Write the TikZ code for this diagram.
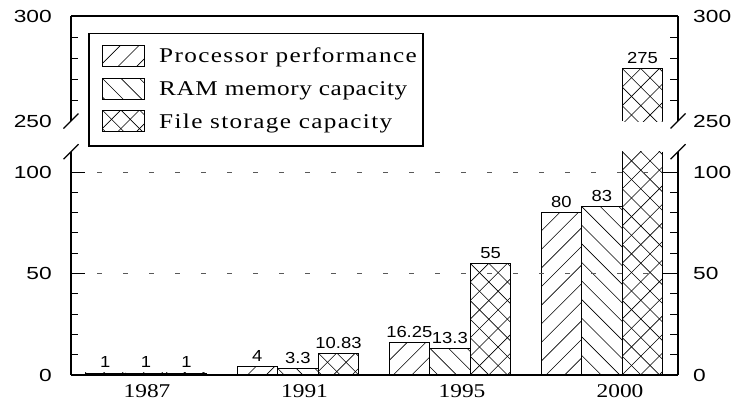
\documentclass[tikz,border=0pt]{standalone}
\usepackage{fontspec}
\setmainfont{Liberation Serif}
\newfontfamily\axisfont[FakeStretch=1.3]{Liberation Sans}
\newfontfamily\valfont[FakeStretch=1.15]{Liberation Sans}
\newfontfamily\yearfont[FakeStretch=1.2]{Liberation Serif}
\newfontfamily\legendfont[FakeStretch=1.2,LetterSpace=6.5]{Liberation Serif}
\newfontfamily\legendtight[FakeStretch=1.2,LetterSpace=3]{Liberation Serif}

% spacing of the hatch lines, measured along the vertical
\def\hstep{18.6}

% Hatch a rectangle (x1,y1)-(x2,y2) (y grows downward); the lines pass
% through (x1 + k*step, ay).  Kind: 1 = '/', 2 = '\', 3 = cross hatch.
\newcommand\hatchbox[6]{%
  \begin{scope}
    \clip (#1,#2) rectangle (#3,#4);
    \pgfmathtruncatemacro\hkmin{((#5)-(#4))/\hstep-2}
    \pgfmathtruncatemacro\hkmax{((#3)-(#1)+(#4)-(#5))/\hstep+2}
    \foreach \k in {\hkmin,...,\hkmax}{
      \pgfmathsetmacro\hpx{(#1)+\k*\hstep}
      \ifnum#6=2\else
        \draw[hatchline] (\hpx-700,#5+700) -- (\hpx+700,#5-700);
      \fi
      \ifnum#6=1\else
        \draw[hatchline] (\hpx-700,#5-700) -- (\hpx+700,#5+700);
      \fi
    }
  \end{scope}}

% One bar of the lower panel: name, left x, value, hatch kind, label
\newcommand\drawbar[5]{%
  \pgfmathsetmacro\btop{375-2.03*#3}
  \hatchbox{#2}{\btop}{#2+40.6}{375}{\btop}{#4}
  \draw[barline] (#2,375) rectangle (#2+40.6,\btop);
  \node[vallabel] (#1) at (#2+20.3,\btop-5) {#5};}

\begin{document}
\begin{tikzpicture}[x=1pt,y=-1pt,
  axisline/.style={line width=1.2pt,black},
  barline/.style={line width=0.8pt,black},
  hatchline/.style={line width=0.6pt,black},
  gridline/.style={black!65,line width=0.9pt,dash pattern=on 5pt off 21pt},
  tickline/.style={line width=1pt,black},
  axlabel/.style={font=\axisfont\fontsize{17.5}{20}\selectfont,inner sep=0},
  vallabel/.style={font=\valfont\fontsize{16}{18}\selectfont,inner sep=0,anchor=base},
  yearlabel/.style={font=\yearfont\fontsize{19.5}{22}\selectfont,inner sep=0,anchor=base},
  legtext/.style={font=\legendfont\fontsize{21}{24}\selectfont,inner sep=0,anchor=base west}]

\useasboundingbox (0,0) rectangle (732,405);

% ---- bars: processor, RAM, file storage ----
\drawbar{v87a}{85}{1}{1}{1}
\drawbar{v87b}{125.6}{1}{2}{1}
\drawbar{v87c}{166.2}{1}{3}{1}

\drawbar{v91a}{237}{4}{1}{4}
\drawbar{v91b}{277.6}{3.3}{2}{3.3}
\drawbar{v91c}{318.2}{10.83}{3}{10.83}

\drawbar{v95a}{389}{16.25}{1}{16.25}
\drawbar{v95b}{429.6}{13.3}{2}{13.3}
\drawbar{v95c}{470.2}{55}{3}{55}

\drawbar{v00a}{541}{80}{1}{80}
\drawbar{v00b}{581.6}{83}{2}{83}

% the 2000 file storage bar runs through the axis break
\hatchbox{622.2}{151.7}{662.8}{375}{-183.25}{3}
\draw[barline,line width=1.1pt] (622.2,151.7) -- (622.2,375);
\draw[barline,line width=1.1pt] (662.8,151.7) -- (662.8,375);
\hatchbox{622.2}{68.5}{662.8}{121}{68.5}{3}
\draw[barline,line width=1.1pt] (622.2,121) -- (622.2,68.5) -- (662.8,68.5) -- (662.8,121);
\node[vallabel] (v00c) at (642.5,63.5) {275};

% ---- dashed reference lines ----
\draw[gridline] (71,172) -- (678,172);
\draw[gridline] (71,273.5) -- (678,273.5);

% ---- frame ----
\draw[axisline] (71,16) -- (678,16);
\draw[axisline] (71,375) -- (678,375);
\draw[axisline] (71,16) -- (71,121);
\draw[axisline] (71,151.7) -- (71,375);
\draw[axisline] (678,16) -- (678,121);
\draw[axisline] (678,151.7) -- (678,375);

% axis break marks
\foreach \bx in {71,678}{
  \foreach \by in {121,151.7}{
    \draw[axisline] (\bx-7.5,\by+7.5) -- (\bx+7.5,\by-7.5);
  }
}

% ---- ticks ----
\foreach \v in {10,20,30,40,60,70,80,90}{
  \draw[tickline] (71,375-2.03*\v) -- ++(7,0);
  \draw[tickline] (678,375-2.03*\v) -- ++(-8,0);
}
\foreach \v in {50,100}{
  \draw[tickline] (71,375-2.03*\v) -- ++(14,0);
  \draw[tickline] (678,375-2.03*\v) -- ++(-15,0);
}
\foreach \v in {260,270,280,290}{
  \draw[tickline] (71,121-2.1*\v+525) -- ++(7,0);
  \draw[tickline] (678,121-2.1*\v+525) -- ++(-8,0);
}

% ---- axis labels ----
\node[axlabel,anchor=east] (la0)   at (52,375)   {0};
\node[axlabel,anchor=east] (la50)  at (52,273.5) {50};
\node[axlabel,anchor=east] (la100) at (52,172)   {100};
\node[axlabel,anchor=east] (la250) at (52,121)   {250};
\node[axlabel,anchor=east] (la300) at (52,16)    {300};
\node[axlabel,anchor=west] (ra0)   at (693,375)   {0};
\node[axlabel,anchor=west] (ra50)  at (693,273.5) {50};
\node[axlabel,anchor=west] (ra100) at (693,172)   {100};
\node[axlabel,anchor=west] (ra250) at (693,121)   {250};
\node[axlabel,anchor=west] (ra300) at (693,16)    {300};

% ---- year labels ----
\node[yearlabel] (y87) at (147,397)   {1987};
\node[yearlabel] (y91) at (304.5,397) {1991};
\node[yearlabel] (y95) at (462,397)   {1995};
\node[yearlabel] (y00) at (620,397)   {2000};

% ---- legend ----
\draw[axisline,fill=white] (89,33.3) rectangle (423,146);
\hatchbox{102.3}{45}{144}{66}{45}{1}
\draw[barline] (102.3,45) rectangle (144,66);
\hatchbox{102.3}{78.3}{144}{99}{78.3}{2}
\draw[barline] (102.3,78.3) rectangle (144,99);
\hatchbox{102.3}{110}{144}{131.7}{110}{3}
\draw[barline] (102.3,110) rectangle (144,131.7);
\node[legtext] (lg1) at (159,62.5)  {Processor performance};
\node[legtext,font=\legendtight\fontsize{21}{24}\selectfont] (lg2) at (159,95.7) {RAM memory capacity};
\node[legtext] (lg3) at (159,128)   {File storage capacity};

\end{tikzpicture}
\end{document}
